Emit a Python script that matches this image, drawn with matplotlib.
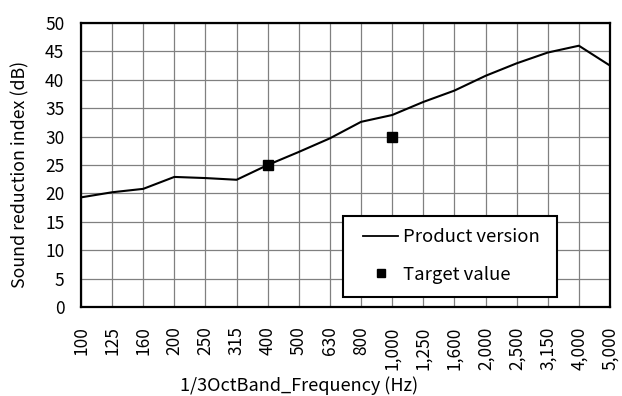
import matplotlib
matplotlib.use("Agg")
import matplotlib.pyplot as plt
from matplotlib.lines import Line2D
from matplotlib.patches import Rectangle

plt.rcParams['font.family'] = ['Noto Sans CJK JP', 'DejaVu Sans']

frequencies = ["100", "125", "160", "200", "250", "315", "400", "500", "630", "800",
               "1,000", "1,250", "1,600", "2,000", "2,500", "3,150", "4,000", "5,000"]
product_version = [19.3, 20.2, 20.8, 22.9, 22.7, 22.4, 25.0, 27.3, 29.7, 32.6,
                   33.8, 36.1, 38.1, 40.7, 42.9, 44.8, 46.0, 42.5]
target_freqs = ["400", "1,000"]
target_values = [25, 30]
y_ticks = [0, 5, 10, 15, 20, 25, 30, 35, 40, 45, 50]

W, H = 622, 396
L, R, T, B = 81, 610, 23, 307
fig = plt.figure(figsize=(W / 100, H / 100), dpi=100)
ax = fig.add_axes([L / W, 1 - B / H, (R - L) / W, (B - T) / H])

def ax_x(px):
    return (px - L) / (R - L)

def ax_y(py):
    return (B - py) / (B - T)

x = list(range(len(frequencies)))
ax.plot(x, product_version, color='black', lw=1.5, zorder=3)
tx = [frequencies.index(f) for f in target_freqs]
ax.plot(tx, target_values, ls='none', marker='s', ms=6.5, color='black', zorder=4)

ax.set_xlim(0, len(frequencies) - 1)
ax.set_ylim(0, 50)
ax.set_xticks(x)
ax.set_xticklabels(frequencies, rotation=90, fontsize=12.5)
ax.set_yticks(y_ticks)
ax.set_yticklabels([str(v) for v in y_ticks], fontsize=12.5)
ax.tick_params(axis='y', length=0, pad=12)
ax.tick_params(axis='x', length=0, pad=14)
ax.grid(True, color='#808080', lw=0.9)
ax.set_axisbelow(True)
for s in ax.spines.values():
    s.set_linewidth(1.6)
    s.set_color('black')
    s.set_zorder(6)

ax.set_ylabel("Sound reduction index (dB)", fontsize=12.8, va='center')
ax.yaxis.set_label_coords(ax_x(20), ax_y(174))
ax.set_xlabel("1/3OctBand_Frequency (Hz)", fontsize=13, va='center')
ax.xaxis.set_label_coords(ax_x(299), ax_y(386))

# legend frame
box = Rectangle((ax_x(343), ax_y(297)), ax_x(557) - ax_x(343), ax_y(216) - ax_y(297),
                transform=ax.transAxes, facecolor='white', edgecolor='black',
                lw=1.5, zorder=5)
ax.add_patch(box)

handles = [Line2D([], [], color='black', lw=1.3),
           Line2D([], [], ls='none', marker='s', ms=6, color='black')]
leg = ax.legend(handles, ["Product version", "Target value"],
                loc='upper left', bbox_to_anchor=(ax_x(363), ax_y(228)),
                frameon=False, fontsize=13.3, borderpad=0, borderaxespad=0,
                labelspacing=1.07, handlelength=1.9, handletextpad=0.25)
leg.set_zorder(7)

fig.savefig("out.png", dpi=100)
